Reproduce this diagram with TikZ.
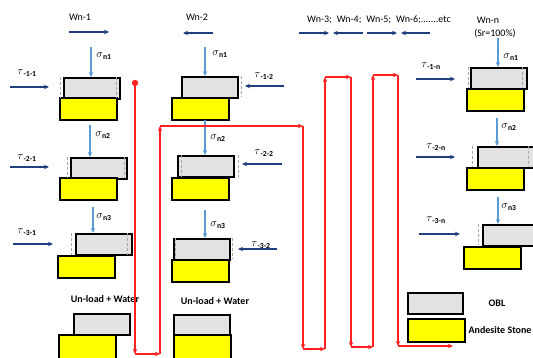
\documentclass[tikz,border=0pt]{standalone}
\usepackage{fontspec}
\setmainfont{Carlito}
\usetikzlibrary{arrows.meta}
\definecolor{navy}{HTML}{1F3F7F}
\definecolor{lblue}{HTML}{5B9BD5}
\definecolor{oblgray}{HTML}{E3E1E1}
\definecolor{ystone}{HTML}{FFFF00}
\definecolor{rline}{HTML}{FF2020}
\newcommand{\sgmL}[1]{$\sigma$\textsubscript{\bfseries #1}}
\newcommand{\tauL}[1]{$\tau$\textsubscript{\bfseries #1}}
\begin{document}
\begin{tikzpicture}[x=1pt,y=-1pt,
  obl/.style={draw=black, line width=1.6pt, fill=oblgray, minimum width=56pt, minimum height=21pt, inner sep=0pt, anchor=north west},
  stone/.style={draw=black, line width=1.6pt, fill=ystone, minimum width=57pt, minimum height=22pt, inner sep=0pt, anchor=north west},
  warr/.style={draw=navy, line width=1.3pt, -{Stealth[length=5pt,width=4.5pt]}},
  sarr/.style={draw=lblue, line width=1.3pt, -{Stealth[length=5pt,width=4.5pt]}},
  rarr/.style={draw=rline, line width=1.1pt, -{Stealth[length=5pt,width=4.5pt]}},
  ghost/.style={draw=gray!70, densely dashed, line width=0.5pt},
  lbl/.style={font=\fontsize{10}{12}\selectfont, inner sep=0pt},
  blbl/.style={font=\bfseries\fontsize{10}{12}\selectfont, inner sep=0pt},
  sig/.style={font=\fontsize{11}{12}\selectfont, inner sep=0pt},
]
\useasboundingbox[fill=white] (0,0) rectangle (533,358);

% ---------- column 1 ----------
\node[obl] (g11) at (63,77) {};
\node[stone] (y11) at (59,97) {};
\node[obl] (g12) at (70,157) {};
\node[stone] (y12) at (59,177) {};
\node[obl] (g13) at (75,233) {};
\node[stone] (y13) at (57,255) {};
\node[obl] (gu1) at (73,313) {};
\node[stone, minimum height=25pt] (yu1) at (58,334) {};
\draw[ghost] (60,77) -- (60,98) (116,77) -- (116,98);
\draw[ghost] (67,157) -- (67,178) (124,157) -- (124,178);
\draw[ghost] (71,233) -- (71,255) (127,233) -- (127,255);

% ---------- column 2 ----------
\node[obl] (g21) at (181,76) {};
\node[stone] (y21) at (171,97) {};
\node[obl] (g22) at (177,155) {};
\node[stone] (y22) at (171,177) {};
\node[obl] (g23) at (173,238) {};
\node[stone] (y23) at (171,259) {};
\node[obl] (gu2) at (173,314) {};
\node[stone, minimum height=25pt] (yu2) at (173,334) {};
\draw[ghost] (241,76) -- (241,97);
\draw[ghost] (181,155) -- (181,177) (238,155) -- (238,177);
\draw[ghost] (175,238) -- (175,259) (232,238) -- (232,259);

% ---------- column n ----------
\node[obl] (gn1) at (470,67) {};
\node[stone] (yn1) at (466,88) {};
\node[obl] (gn2) at (477,146) {};
\node[stone] (yn2) at (466,167) {};
\node[obl] (gn3) at (482,224) {};
\node[stone] (yn3) at (463,246) {};
\draw[ghost] (468,67) -- (468,88) (522,67) -- (522,88);
\draw[ghost] (472,146) -- (472,167) (528,146) -- (528,167);
\draw[ghost] (478,224) -- (478,245);

% ---------- legend ----------
\node[obl, minimum width=55pt] (gl) at (407,292) {};
\node[stone, minimum height=23pt] (yl) at (407,318) {};
\node[blbl] (tobl) at (497,303) {OBL};
\node[blbl] (tand) at (500,330) {Andesite Stone};

% ---------- top labels and W arrows ----------
\node[lbl] (tw1) at (80,17) {Wn-1};
\node[lbl] (tw2) at (197,17) {Wn-2};
\node[lbl] (tw3) at (379,20) {Wn-3;\enspace Wn-4;\enspace Wn-5;\enspace Wn-6;.......etc};
\node[lbl] (twn) at (488,20) {Wn-n};
\node[lbl] (tsr) at (495,34) {(Sr=100\%)};
\coordinate (w1a) at (69,32);  \coordinate (w1b) at (109,32);
\coordinate (w2a) at (213,33); \coordinate (w2b) at (183,33);
\coordinate (w3a) at (299,33); \coordinate (w3b) at (329,33);
\coordinate (w4a) at (363,33); \coordinate (w4b) at (333,33);
\coordinate (w5a) at (367,33); \coordinate (w5b) at (397,33);
\coordinate (w6a) at (430,33); \coordinate (w6b) at (401,33);
\draw[warr] (w1a) -- (w1b);
\draw[warr] (w2a) -- (w2b);
\draw[warr] (w3a) -- (w3b);
\draw[warr] (w4a) -- (w4b);
\draw[warr] (w5a) -- (w5b);
\draw[warr] (w6a) -- (w6b);

% ---------- sigma arrows ----------
\coordinate (s11) at (91,47);  \coordinate (s12) at (90,125);  \coordinate (s13) at (93,207);
\coordinate (s21) at (205,47); \coordinate (s22) at (205,120); \coordinate (s23) at (205,210);
\coordinate (sn1) at (498,38); \coordinate (sn2) at (497,118); \coordinate (sn3) at (498,197);
\draw[sarr] (s11) -- (s11 |- g11.north);
\draw[sarr] (s12) -- (s12 |- g12.north);
\draw[sarr] (s13) -- (s13 |- g13.north);
\draw[sarr] (s21) -- (s21 |- g21.north);
\draw[sarr] (s22) -- (s22 |- g22.north);
\draw[sarr] (s23) -- (s23 |- g23.north);
\draw[sarr] (sn1) -- (sn1 |- gn1.north);
\draw[sarr] (sn2) -- (sn2 |- gn2.north);
\draw[sarr] (sn3) -- (sn3 |- gn3.north);
\node[sig] (ls11) at (104,56) {\sgmL{n1}};
\node[sig] (ls12) at (103,135) {\sgmL{n2}};
\node[sig] (ls13) at (104,217) {\sgmL{n3}};
\node[sig] (ls21) at (220,54) {\sgmL{n1}};
\node[sig] (ls22) at (218,138) {\sgmL{n2}};
\node[sig] (ls23) at (218,225) {\sgmL{n3}};
\node[sig] (lsn1) at (511,57) {\sgmL{n1}};
\node[sig] (lsn2) at (509,127) {\sgmL{n2}};
\node[sig] (lsn3) at (509,207) {\sgmL{n3}};

% ---------- tau arrows ----------
\coordinate (t11a) at (10,87);  \coordinate (t11b) at (49,87);
\coordinate (t12a) at (10,167); \coordinate (t12b) at (49,167);
\coordinate (t13a) at (13,244); \coordinate (t13b) at (53,244);
\coordinate (t21a) at (284,86); \coordinate (t21b) at (245,86);
\coordinate (t22a) at (282,164); \coordinate (t22b) at (242,164);
\coordinate (t23a) at (277,249); \coordinate (t23b) at (238,249);
\coordinate (tn1a) at (416,79); \coordinate (tn1b) at (455,79);
\coordinate (tn2a) at (416,157); \coordinate (tn2b) at (455,157);
\coordinate (tn3a) at (419,234); \coordinate (tn3b) at (460,234);
\draw[warr] (t11a) -- (t11b);
\draw[warr] (t12a) -- (t12b);
\draw[warr] (t13a) -- (t13b);
\draw[warr] (t21a) -- (t21b);
\draw[warr] (t22a) -- (t22b);
\draw[warr] (t23a) -- (t23b);
\draw[warr] (tn1a) -- (tn1b);
\draw[warr] (tn2a) -- (tn2b);
\draw[warr] (tn3a) -- (tn3b);
\node[sig] (lt11) at (27,73) {\tauL{-1-1}};
\node[sig] (lt12) at (27,158) {\tauL{-2-1}};
\node[sig] (lt13) at (27,232) {\tauL{-3-1}};
\node[sig] (lt21) at (264,76) {\tauL{-1-2}};
\node[sig] (lt22) at (264,153) {\tauL{-2-2}};
\node[sig] (lt23) at (261,245) {\tauL{-3-2}};
\node[sig] (ltn1) at (431,66) {\tauL{-1-n}};
\node[sig] (ltn2) at (436,147) {\tauL{-2-n}};
\node[sig] (ltn3) at (436,220) {\tauL{-3-n}};

% ---------- unload labels ----------
\node[blbl] (tu1) at (105,299) {Un-load + Water};
\node[blbl] (tu2) at (215,301) {Un-load + Water};

% ---------- red path ----------
\coordinate (ra) at (135,83);
\coordinate (rb) at (135,354);
\coordinate (rc) at (160,354);
\coordinate (rd) at (160,126);
\coordinate (re) at (303,126);
\coordinate (rf) at (303,349);
\coordinate (rg) at (325,349);
\coordinate (rh) at (325,77);
\coordinate (ri) at (351,77);
\coordinate (rj) at (351,347);
\coordinate (rk) at (373,347);
\coordinate (rl) at (373,75);
\coordinate (rm) at (398,75);
\coordinate (rn) at (398,346);
\coordinate (ro) at (453,346);
\draw[rarr] (ra) -- (rb);
\draw[rarr] (rb) -- (rc);
\draw[rarr] (rc) -- (rd);
\draw[rarr] (rd) -- (re);
\draw[rarr] (re) -- (rf);
\draw[rarr] (rf) -- (rg);
\draw[rarr] (rg) -- (rh);
\draw[rarr] (rh) -- (ri);
\draw[rarr] (ri) -- (rj);
\draw[rarr] (rj) -- (rk);
\draw[rarr] (rk) -- (rl);
\draw[rarr] (rl) -- (rm);
\draw[rarr] (rm) -- (rn);
\draw[rarr] (rn) -- (ro);
\fill[rline] (ra) circle (3.2pt);
\end{tikzpicture}
\end{document}
